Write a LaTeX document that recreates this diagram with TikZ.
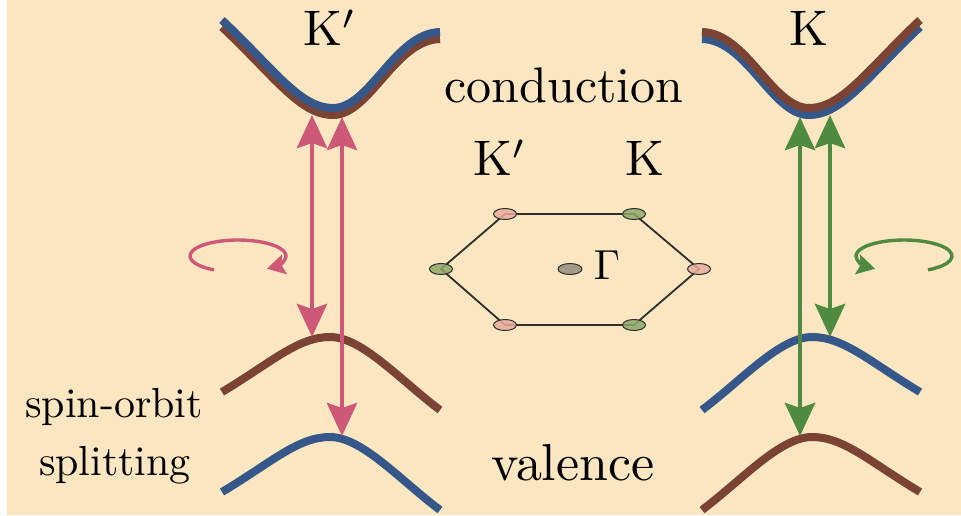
\documentclass[tikz,border=0pt]{standalone}
\usepackage{tikz}
\usetikzlibrary{arrows.meta,shapes.geometric}
\definecolor{bgcream}{HTML}{FAE6C0}
\definecolor{bandblue}{HTML}{36578A}
\definecolor{bandbrown}{HTML}{7A4334}
\definecolor{optpink}{HTML}{CE5878}
\definecolor{optgreen}{HTML}{4E8A3F}
\definecolor{dotpink}{HTML}{E8AE9F}
\definecolor{dotgreen}{HTML}{8DAA6B}
\definecolor{dotgray}{HTML}{948F7D}
\definecolor{hexline}{HTML}{2E2E2E}
\newcommand{\Kp}{K\raisebox{-0.5pt}{$'$}}

\begin{document}
\begin{tikzpicture}[x=0.5pt,y=-0.5pt,
    band/.style={line width=4pt},
    blueband/.style={band,draw=bandblue},
    brownband/.style={band,draw=bandbrown},
    transition/.style={line width=2.4pt,
      {Stealth[length=16.5pt,width=15pt,inset=2.5pt]}-{Stealth[length=16.5pt,width=15pt,inset=2.5pt]}},
    spinarrow/.style={line width=1.7pt,-{Stealth[length=9pt,width=10pt,inset=1.5pt]}},
    kdot/.style={ellipse,draw=hexline,line width=0.5pt,inner sep=0pt,
      minimum width=11.5pt,minimum height=5.5pt,fill opacity=0.85},
    bigtext/.style={font=\fontsize{10}{12}\selectfont,scale=2.5,anchor=base,inner sep=0pt},
    midtext/.style={font=\fontsize{10}{12}\selectfont,scale=2.1,anchor=base,inner sep=0pt}
  ]
    \useasboundingbox (0,0) rectangle (961,515);
    \fill[white] (0,0) rectangle (961,515);
    \fill[bgcream] (7,0) rectangle (961,515);

    % K' valley (left)
    \draw[brownband] (222,27) .. controls (275,77) and (300,115) .. (333,115)
                     .. controls (370,115) and (395,40) .. (440,39);
    \draw[blueband]  (222,20) .. controls (275,70) and (300,108) .. (333,108)
                     .. controls (370,108) and (395,33) .. (440,32);
    \draw[brownband] (222,392) .. controls (272,362) and (298,337) .. (330,337)
                     .. controls (362,337) and (400,380) .. (440,410);
    \draw[blueband]  (222,492) .. controls (272,462) and (298,437) .. (330,437)
                     .. controls (362,437) and (400,480) .. (440,510);

    % K valley (right), mirrored
    \begin{scope}[shift={(1142,0)},xscale=-1]
      \draw[blueband]  (222,27) .. controls (275,77) and (300,115) .. (333,115)
                       .. controls (370,115) and (395,40) .. (440,39);
      \draw[brownband] (222,20) .. controls (275,70) and (300,108) .. (333,108)
                       .. controls (370,108) and (395,33) .. (440,32);
      \draw[blueband]  (222,392) .. controls (272,362) and (298,337) .. (330,337)
                       .. controls (362,337) and (400,380) .. (440,410);
      \draw[brownband] (222,492) .. controls (272,462) and (298,437) .. (330,437)
                       .. controls (362,437) and (400,480) .. (440,510);
    \end{scope}

    % transitions
    \coordinate (kpc1) at (312,115);
    \coordinate (kpv1) at (312,337);
    \coordinate (kpc2) at (342,117);
    \coordinate (kpv2) at (342,436);
    \coordinate (kc1) at (830,115);
    \coordinate (kv1) at (830,337);
    \coordinate (kc2) at (800,117);
    \coordinate (kv2) at (800,436);
    \draw[transition,optpink]  (kpc1) -- (kpv1);
    \draw[transition,optpink]  (kpc2) -- (kpv2);
    \draw[transition,optgreen] (kc1) -- (kv1);
    \draw[transition,optgreen] (kc2) -- (kv2);

    % helicity
    \draw[spinarrow,optpink] (238,256) ++(120:48 and 16)
      arc[start angle=120,end angle=413,x radius=48,y radius=16];
    \draw[spinarrow,optgreen] (904,256) ++(60:48 and 16)
      arc[start angle=60,end angle=-233,x radius=48,y radius=16];

    % Brillouin zone
    \coordinate (h1) at (505,214);
    \coordinate (h2) at (634,214);
    \coordinate (h3) at (699,269);
    \coordinate (h4) at (634,325);
    \coordinate (h5) at (505,325);
    \coordinate (h6) at (441,269);
    \draw[hexline,line width=0.9pt] (h1) -- (h2) -- (h3) -- (h4) -- (h5) -- (h6) -- cycle;
    \node[kdot,fill=dotpink]  (d1) at (h1) {};
    \node[kdot,fill=dotgreen] (d2) at (h2) {};
    \node[kdot,fill=dotpink]  (d3) at (h3) {};
    \node[kdot,fill=dotgreen] (d4) at (h4) {};
    \node[kdot,fill=dotpink]  (d5) at (h5) {};
    \node[kdot,fill=dotgreen] (d6) at (h6) {};
    \node[kdot,fill=dotgray,minimum width=12pt] (gdot) at (570,269) {};
    \node[font=\fontsize{10}{12}\selectfont,scale=2.1,anchor=base west,inner sep=0pt] (gammalab) at (593,279) {$\Gamma$};

    % labels
    \node[bigtext] (kptop) at (330,45) {\Kp};
    \node[bigtext] (ktop) at (809,45) {K};
    \node[bigtext] (condlab) at (564,102) {conduction};
    \node[bigtext] (kpbz) at (500,175) {\Kp};
    \node[bigtext] (kbz) at (645,175) {K};
    \node[bigtext,scale=1.04] (vallab) at (573,480) {valence};
    \node[midtext] (solab) at (114,417) {spin-orbit};
    \node[midtext] (splitlab) at (115,475) {splitting};
  \end{tikzpicture}
\end{document}
